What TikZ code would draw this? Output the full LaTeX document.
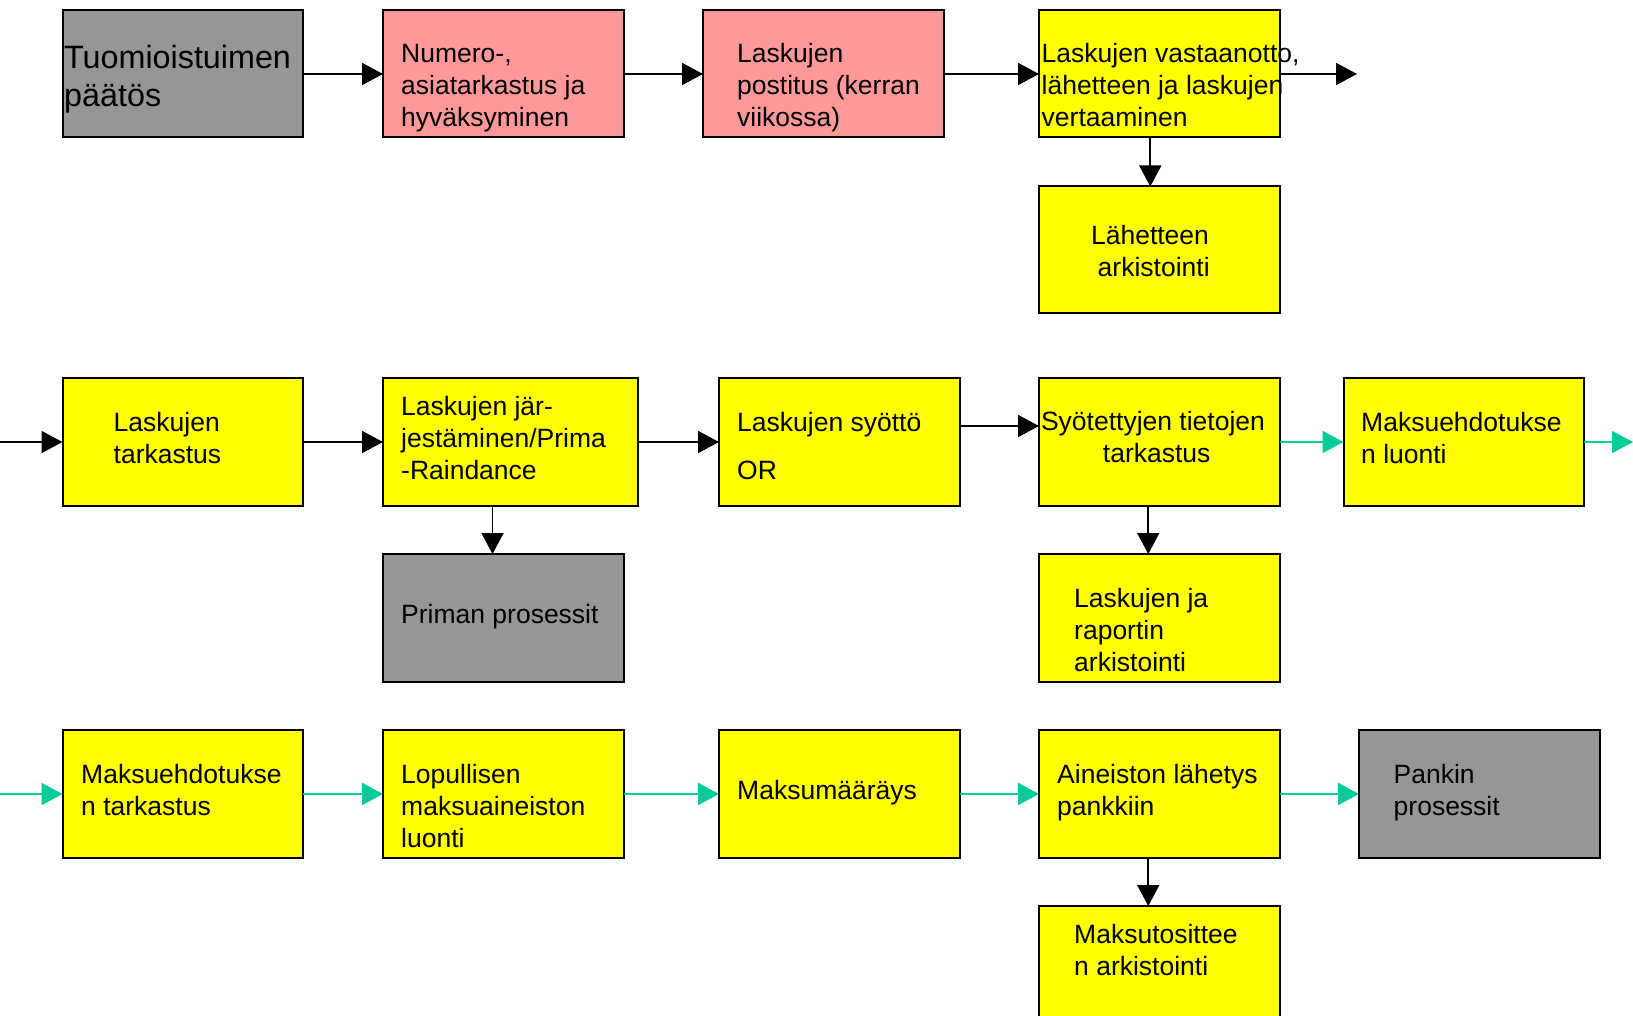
\documentclass[tikz,border=0pt]{standalone}
\usepackage{fontspec}
\setmainfont{Liberation Sans}
\usetikzlibrary{arrows.meta}
\definecolor{boxgray}{RGB}{150,150,150}
\definecolor{boxpink}{RGB}{255,153,153}
\definecolor{boxyellow}{RGB}{255,255,0}
\definecolor{tealarr}{RGB}{0,204,153}
\tikzset{
  box/.style={draw=black, line width=2pt, anchor=north west, inner sep=0pt, outer sep=0pt, minimum width=240.5pt, minimum height=128pt},
  wide/.style={minimum width=255pt},
  txt/.style={inner sep=0pt, anchor=base west, font=\fontsize{26.5}{32}\selectfont},
  ctxt/.style={inner sep=0pt, anchor=base, font=\fontsize{26.5}{32}\selectfont},
  arr/.style={draw=black, line width=1.8pt, -{Triangle[length=21pt,width=22pt]}},
  tarr/.style={draw=tealarr, line width=1.8pt, -{Triangle[length=21pt,width=22pt]}}
}
\begin{document}
\begin{tikzpicture}[x=1pt,y=-1pt]
\useasboundingbox (0,0) rectangle (1633,1016);
% row 1
\node[box, fill=boxgray, minimum height=127pt] (b1) at (62.5,10.5) {};
\node[box, fill=boxpink, minimum height=127pt] (b2) at (383,10.5) {};
\node[box, fill=boxpink, minimum height=127pt] (b3) at (703,10.5) {};
\node[box, fill=boxyellow, minimum height=127pt] (b4) at (1039,10.5) {};
\node[box, fill=boxyellow, minimum height=127pt] (b5) at (1039,186.5) {};
\coordinate (e1) at (1357,74);
% row 2
\node[box, fill=boxyellow] (b6) at (62.5,378) {};
\node[box, wide, fill=boxyellow] (b7) at (383,378) {};
\node[box, fill=boxyellow] (b8) at (719,378) {};
\node[box, fill=boxyellow] (b9) at (1039,378) {};
\node[box, fill=boxyellow] (b10) at (1343.5,378) {};
\node[box, fill=boxgray] (b11) at (383,554) {};
\node[box, fill=boxyellow] (b12) at (1039,554) {};
\coordinate (s2) at (0,442);
\coordinate (e2) at (1633,442);
% row 3
\node[box, fill=boxyellow] (b13) at (62.5,730) {};
\node[box, fill=boxyellow] (b14) at (383,730) {};
\node[box, fill=boxyellow] (b15) at (719,730) {};
\node[box, fill=boxyellow] (b16) at (1039,730) {};
\node[box, fill=boxgray] (b17) at (1359,730) {};
\node[box, fill=boxyellow] (b18) at (1039,906) {};
\coordinate (s3) at (0,794);

% texts
\node[inner sep=0pt, anchor=base west, font=\fontsize{32.3}{38}\selectfont] (t1) at (64,68.5) {\vtop{\hbox{Tuomioistuimen}\hbox{päätös}}};
\node[txt] (t2) at (401,62.5) {\vtop{\hbox{Numero-,}\hbox{asiatarkastus ja}\hbox{hyväksyminen}}};
\node[txt] (t3) at (737,62.5) {\vtop{\hbox{Laskujen}\hbox{postitus (kerran}\hbox{viikossa)}}};
\node[txt] (t4) at (1041.5,62.5) {\vtop{\hbox{Laskujen vastaanotto,}\hbox{lähetteen ja laskujen}\hbox{vertaaminen}}};
\node[ctxt] (t5) at (1150,244.5) {\vtop{\halign{\hfil#\hfil\cr Lähetteen\cr \ arkistointi\cr}}};
\node[txt] (t6) at (113.5,431) {\vtop{\hbox{Laskujen}\hbox{tarkastus}}};
\node[txt] (t7) at (401,415.5) {\vtop{\hbox{Laskujen jär-}\hbox{jestäminen/Prima}\hbox{-Raindance}}};
\node[txt] (t8) at (737,431) {Laskujen syöttö};
\node[txt] (t8b) at (737,479) {OR};
\node[ctxt] (t9) at (1153,430) {\vtop{\halign{\hfil#\hfil\cr Syötettyjen tietojen\cr \ tarkastus\cr}}};
\node[txt] (t10) at (1361,431) {\vtop{\hbox{Maksuehdotukse}\hbox{n luonti}}};
\node[txt] (t11) at (401,623) {Priman prosessit};
\node[txt] (t12) at (1074,607) {\vtop{\hbox{Laskujen ja}\hbox{raportin}\hbox{arkistointi}}};
\node[txt] (t13) at (81,783) {\vtop{\hbox{Maksuehdotukse}\hbox{n tarkastus}}};
\node[txt] (t14) at (401,783) {\vtop{\hbox{Lopullisen}\hbox{maksuaineiston}\hbox{luonti}}};
\node[txt] (t15) at (737,799) {Maksumääräys};
\node[txt] (t16) at (1057,783) {\vtop{\hbox{Aineiston lähetys}\hbox{pankkiin}}};
\node[txt] (t17) at (1393.5,783) {\vtop{\hbox{Pankin}\hbox{prosessit}}};
\node[txt] (t18) at (1074,943.5) {\vtop{\hbox{Maksutosittee}\hbox{n arkistointi}}};

% connectors row 1
\draw[arr] (b1.east) -- (b2.west);
\draw[arr] (b2.east) -- (b3.west);
\draw[arr] (b3.east) -- (b4.west);
\draw[arr] (b4.east) -- (e1);
\draw[arr] ([xshift=-9pt]b4.south) -- ([xshift=-9pt]b5.north);
% row 2
\draw[arr] (s2) -- (b6.west);
\draw[arr] (b6.east) -- (b7.west);
\draw[arr] (b7.east) -- (b8.west);
\draw[arr] ([yshift=16pt]b8.east) -- ([yshift=16pt]b9.west);
\draw[tarr] (b9.east) -- (b10.west);
\draw[tarr] (b10.east) -- (e2);
\draw[arr] ([xshift=-18pt]b7.south) -- ([xshift=-18pt]b7.south |- b11.north);
\draw[arr] ([xshift=-11pt]b9.south) -- ([xshift=-11pt]b12.north);
% row 3
\draw[tarr] (s3) -- (b13.west);
\draw[tarr] (b13.east) -- (b14.west);
\draw[tarr] (b14.east) -- (b15.west);
\draw[tarr] (b15.east) -- (b16.west);
\draw[tarr] (b16.east) -- (b17.west);
\draw[arr] ([xshift=-11pt]b16.south) -- ([xshift=-11pt]b18.north);
\end{tikzpicture}
\end{document}
